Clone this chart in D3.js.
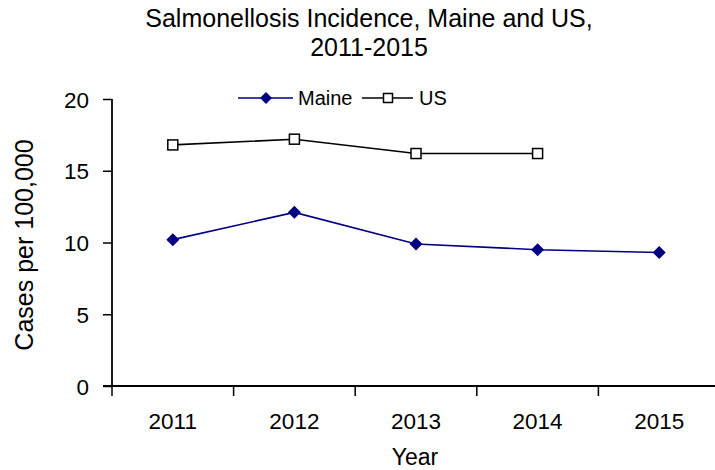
<!DOCTYPE html>
<html><head><meta charset="utf-8">
<script src="https://cdn.jsdelivr.net/npm/d3@7"></script>
<style>body{margin:0;background:#fff}svg{display:block}text{font-family:"Liberation Sans",Arial,sans-serif;fill:#000}</style>
</head><body>
<script>
const years = ["2011","2012","2013","2014","2015"];
const maine = [10.2, 12.1, 9.9, 9.5, 9.3];
const us = [16.8, 17.2, 16.2, 16.2, null];
const yTicks = [0, 5, 10, 15, 20];

const W = 715, H = 470;
const svg = d3.select("body").append("svg").attr("width", W).attr("height", H);
const x = d3.scaleBand().domain(years).range([112, 720]);
const y = d3.scaleLinear().domain([0, 20]).range([386, 99]);

// y axis
const yAxis = d3.axisLeft(y).tickValues(yTicks).tickSize(9).tickPadding(14);
const gy = svg.append("g").attr("transform", "translate(112,0)").call(yAxis);
gy.select(".domain").attr("stroke", "#000").attr("stroke-width", 1.8).attr("d", `M0,${y(20)}V${y(0)}`);
gy.selectAll(".tick line").attr("stroke", "#000").attr("stroke-width", 1.5);
gy.selectAll("text").style("font-size", "22.5px").attr("dy", "0.36em");

// x axis
const gx = svg.append("g").attr("transform", `translate(0,386)`);
gx.append("line").attr("x1", 103).attr("x2", 715).attr("y1", 0).attr("y2", 0).attr("stroke", "#000").attr("stroke-width", 1.8);
const bounds = years.map(d => x(d)).concat([x(years[years.length-1]) + x.bandwidth()]);
gx.selectAll("line.t").data(bounds).join("line").attr("class","t")
  .attr("x1", d => d).attr("x2", d => d).attr("y1", 0).attr("y2", 10).attr("stroke", "#000").attr("stroke-width", 1.5);
gx.selectAll("text").data(years).join("text")
  .attr("x", d => x(d) + x.bandwidth()/2).attr("y", 43).attr("text-anchor", "middle")
  .style("font-size", "22.5px").text(d => d);

// titles
svg.append("text").attr("x", 369).attr("y", 27).attr("text-anchor", "middle").style("font-size", "25px")
  .text("Salmonellosis Incidence, Maine and US,");
svg.append("text").attr("x", 369).attr("y", 56).attr("text-anchor", "middle").style("font-size", "25px")
  .text("2011-2015");
svg.append("text").attr("x", 415).attr("y", 465).attr("text-anchor", "middle").style("font-size", "23px").text("Year");
svg.append("text").attr("transform", "translate(33,245) rotate(-90)").attr("text-anchor", "middle")
  .style("font-size", "25px").text("Cases per 100,000");

const cx = d => x(d) + x.bandwidth()/2;
const line = d3.line().x(d => cx(d.k)).y(d => y(d.v));
const maineData = years.map((k, i) => ({k, v: maine[i]}));
const usData = years.map((k, i) => ({k, v: us[i]})).filter(d => d.v != null);

svg.append("path").datum(usData).attr("d", line).attr("fill", "none").attr("stroke", "#000").attr("stroke-width", 1.6);
svg.append("path").datum(maineData).attr("d", line).attr("fill", "none").attr("stroke", "#000080").attr("stroke-width", 1.6);

const diamond = (s) => `M0,${-s}L${s},0L0,${s}L${-s},0Z`;
svg.selectAll("path.m").data(maineData).join("path").attr("class","m")
  .attr("transform", d => `translate(${cx(d.k)},${y(d.v)})`).attr("d", diamond(6.5)).attr("fill", "#000080");
svg.selectAll("rect.u").data(usData).join("rect").attr("class","u")
  .attr("x", d => cx(d.k) - 5).attr("y", d => y(d.v) - 5).attr("width", 10).attr("height", 10)
  .attr("fill", "#fff").attr("stroke", "#000").attr("stroke-width", 1.5);

// legend
const lg = svg.append("g");
lg.append("line").attr("x1", 238).attr("x2", 293).attr("y1", 98).attr("y2", 98).attr("stroke", "#000080").attr("stroke-width", 1.6);
lg.append("path").attr("transform", "translate(266,98)").attr("d", diamond(6)).attr("fill", "#000080");
lg.append("text").attr("x", 298).attr("y", 105).style("font-size", "20px").text("Maine");
lg.append("line").attr("x1", 362).attr("x2", 413).attr("y1", 98).attr("y2", 98).attr("stroke", "#000").attr("stroke-width", 1.6);
lg.append("rect").attr("x", 383.5).attr("y", 93.5).attr("width", 9).attr("height", 9).attr("fill", "#fff").attr("stroke", "#000").attr("stroke-width", 1.5);
lg.append("text").attr("x", 419).attr("y", 105).style("font-size", "20px").text("US");
</script>
</body></html>
